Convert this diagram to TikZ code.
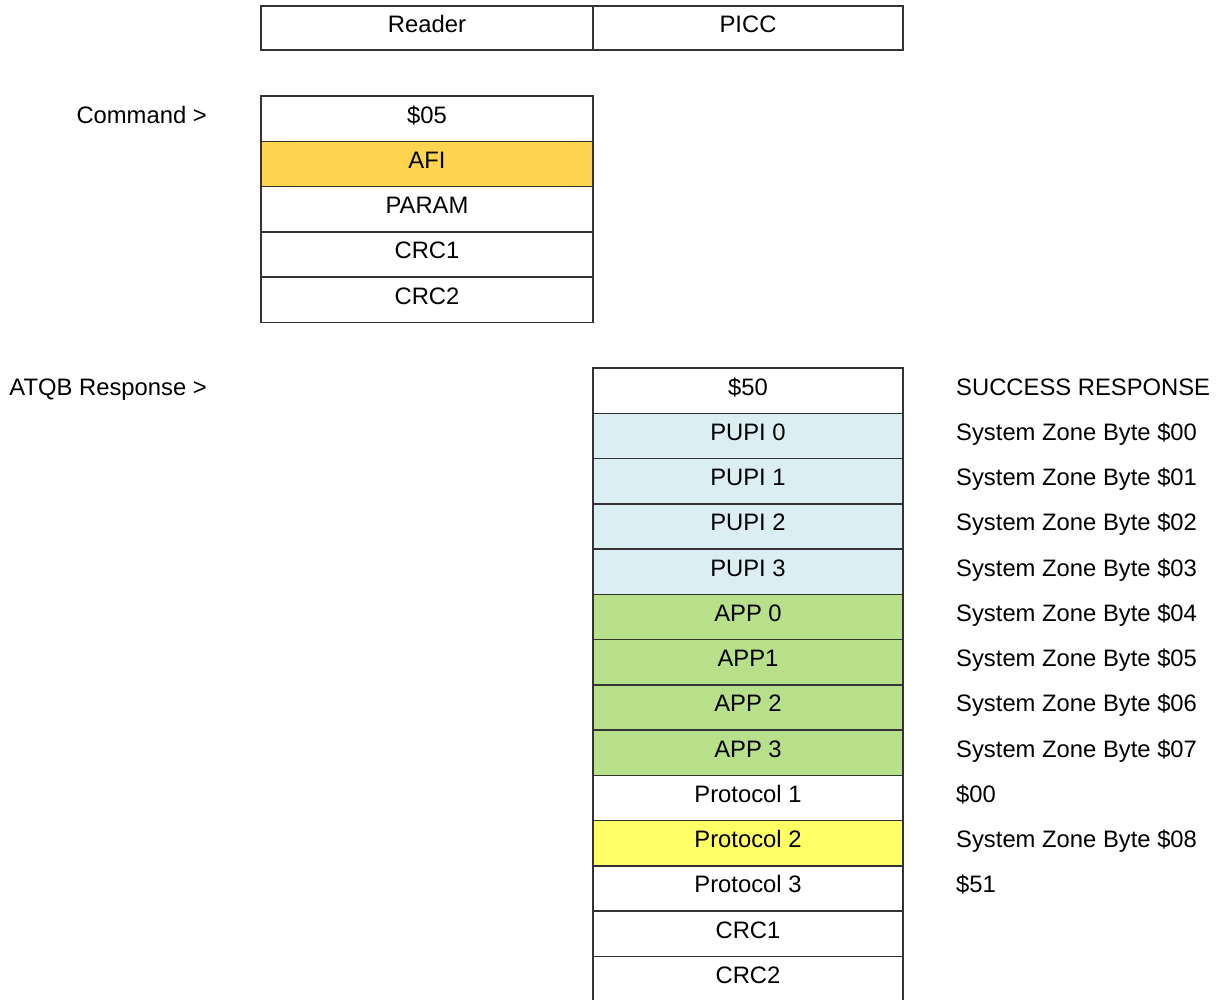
\documentclass[tikz,border=0pt]{standalone}
\usepackage{fontspec}
\setmainfont{Liberation Sans}
\usetikzlibrary{positioning}

\definecolor{afiorange}{HTML}{FFD54F}
\definecolor{pupiblue}{HTML}{DAEEF3}
\definecolor{appgreen}{HTML}{B8DF8A}
\definecolor{protoyellow}{HTML}{FFFF66}
\definecolor{gridline}{HTML}{333333}

\tikzset{
  cell/.style={draw=gridline, line width=1.5pt, rectangle, minimum height=45.25pt,
    outer sep=0pt, inner sep=0pt, text height=17pt, text depth=8pt,
    font=\fontsize{23.8}{28}\selectfont},
  widecell/.style={cell, minimum width=332pt},
  narrowcell/.style={cell, minimum width=310pt},
  border/.style={draw=gridline, line width=1.5pt},
  note/.style={inner sep=0pt, font=\fontsize{23.8}{28}\selectfont},
}

\begin{document}
\begin{tikzpicture}
  \useasboundingbox[fill=white] (0,0) rectangle (1222pt,-999pt);

  \node[widecell, minimum height=44pt, anchor=north west] (reader) at (261pt,-6pt) {Reader};
  \node[narrowcell, minimum height=44pt, right=0pt of reader] (picc) {PICC};

  \node[widecell, anchor=north west] (c1) at (261pt,-96pt) {\$05};
  \node[widecell, fill=afiorange, below=0pt of c1] (c2) {AFI};
  \node[widecell, below=0pt of c2] (c3) {PARAM};
  \node[widecell, below=0pt of c3] (c4) {CRC1};
  \node[widecell, below=0pt of c4] (c5) {CRC2};

  \foreach \i/\txt/\col in {1/\$50/white, 2/PUPI 0/pupiblue, 3/PUPI 1/pupiblue,
      4/PUPI 2/pupiblue, 5/PUPI 3/pupiblue, 6/APP 0/appgreen, 7/APP1/appgreen,
      8/APP 2/appgreen, 9/APP 3/appgreen, 10/Protocol 1/white,
      11/Protocol 2/protoyellow, 12/Protocol 3/white, 13/CRC1/white, 14/CRC2/white}
    \node[narrowcell, fill=\col, anchor=north west] (r\i) at (593pt,{-368pt-(\i-1)*45.25pt}) {\txt};

  \foreach \n in {c1,c2,c3,c4,c5,r1,r2,r3,r4,r5,r6,r7,r8,r9,r10,r11,r12,r13,r14}
    \draw[border] (\n.north west) rectangle (\n.south east);

  \foreach \i/\txt in {1/SUCCESS RESPONSE, 2/System Zone Byte \$00,
      3/System Zone Byte \$01, 4/System Zone Byte \$02, 5/System Zone Byte \$03,
      6/System Zone Byte \$04, 7/System Zone Byte \$05, 8/System Zone Byte \$06,
      9/System Zone Byte \$07, 10/\$00, 11/System Zone Byte \$08, 12/\$51}
    \node[note, anchor=base west] (n\i) at ([xshift=53pt]r\i.base east) {\txt};

  \node[note, anchor=base east] (cmdlabel) at ([xshift=-54pt]c1.base west) {Command >};
  \node[note, anchor=base east] (atqblabel) at ([xshift=-54pt]c1.west |- r1.base) {ATQB Response >};
\end{tikzpicture}
\end{document}
